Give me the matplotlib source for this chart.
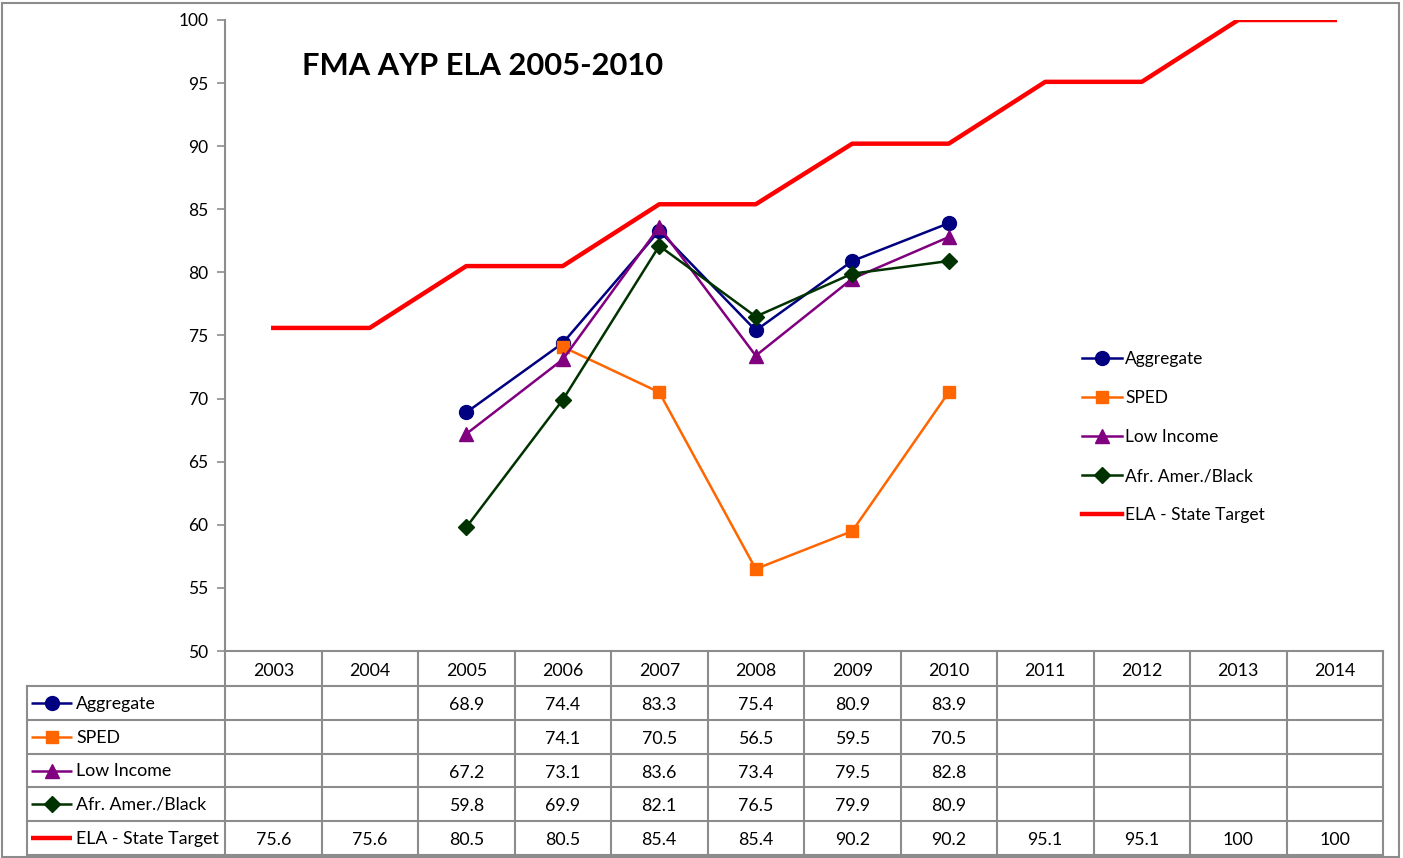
import matplotlib
matplotlib.use("Agg")
import matplotlib.pyplot as plt
from matplotlib.lines import Line2D
from matplotlib.patches import Rectangle

years = ["2003", "2004", "2005", "2006", "2007", "2008", "2009", "2010",
         "2011", "2012", "2013", "2014"]
aggregate = [None, None, 68.9, 74.4, 83.3, 75.4, 80.9, 83.9, None, None, None, None]
sped = [None, None, None, 74.1, 70.5, 56.5, 59.5, 70.5, None, None, None, None]
low_income = [None, None, 67.2, 73.1, 83.6, 73.4, 79.5, 82.8, None, None, None, None]
afr_amer = [None, None, 59.8, 69.9, 82.1, 76.5, 79.9, 80.9, None, None, None, None]
state_target = [75.6, 75.6, 80.5, 80.5, 85.4, 85.4, 90.2, 90.2, 95.1, 95.1, 100, 100]

series_names = ["Aggregate", "SPED", "Low Income", "Afr. Amer./Black", "ELA - State Target"]
series_vals = [aggregate, sped, low_income, afr_amer, state_target]
colors = ["#000080", "#FF6600", "#800080", "#003300", "#FF0000"]
markers = ["o", "s", "^", "D", None]
msizes = [10, 9, 10, 8, 0]
lws = [1.8, 1.8, 1.8, 1.8, 3.2]

plt.rcParams['font.family'] = ['Lato', 'DejaVu Sans']

W, H = 1403, 858
fig = plt.figure(figsize=(W / 100, H / 100), dpi=100)

# outer frame
fig.patches.append(Rectangle((2 / W, 1 / H), 1397 / W, 854 / H, transform=fig.transFigure,
                             fill=False, edgecolor="#8c8c8c", linewidth=1.5))

L, R, T, B = 225, 1383, 20, 651
ax = fig.add_axes([L / W, 1 - B / H, (R - L) / W, (B - T) / H])
ax.set_facecolor("none")
x = list(range(len(years)))
handles = []
for name, vals, c, m, ms, lw in zip(series_names, series_vals, colors, markers, msizes, lws):
    xs = [i for i, v in zip(x, vals) if v is not None]
    ys = [v for v in vals if v is not None]
    ln, = ax.plot(xs, ys, color=c, marker=m, markersize=ms, linewidth=lw,
                  markeredgecolor=c, markerfacecolor=c, label=name, zorder=3)
    handles.append(ln)

ax.set_xlim(-0.5, len(years) - 0.5)
ax.set_ylim(50, 100)
ax.set_yticks(range(50, 101, 5))
ax.set_xticks([])
for s in ["top", "right", "bottom"]:
    ax.spines[s].set_visible(False)
ax.spines["left"].set_color("#8c8c8c")
ax.spines["left"].set_linewidth(1.5)
ax.tick_params(axis="y", direction="out", length=6, width=1.2, color="#8c8c8c",
               labelsize=12.5, pad=6)

fig.text(302 / W, 1 - 66 / H, "FMA AYP ELA 2005-2010", fontsize=22.2, fontweight="bold",
         va="center", ha="left")

fig.legend(handles=handles, loc="upper left", bbox_to_anchor=(1075 / W, 1 - 344 / H),
           frameon=False, fontsize=12.5, handlelength=2.3, handletextpad=0.2,
           labelspacing=1.33, borderaxespad=0)

# data table
tax = fig.add_axes([0, 0, 1, 1])
tax.set_xlim(0, W)
tax.set_ylim(H, 0)
tax.axis("off")
gc = "#8c8c8c"
glw = 1.5
colw = (R - L) / len(years)
row_edges = [651, 686, 720, 754, 787, 821, 855]
lab_left = 27
# horizontal lines
tax.plot([L, R], [row_edges[0]] * 2, color=gc, lw=glw)
for yy in row_edges[1:]:
    tax.plot([lab_left, R], [yy, yy], color=gc, lw=glw)
# vertical lines
for i in range(len(years) + 1):
    xx = L + i * colw
    tax.plot([xx, xx], [row_edges[0], row_edges[-1]], color=gc, lw=glw)
tax.plot([lab_left, lab_left], [row_edges[1], row_edges[-1]], color=gc, lw=glw)

for i, yr in enumerate(years):
    tax.text(L + (i + 0.5) * colw, (row_edges[0] + row_edges[1]) / 2 + 2, yr,
             ha="center", va="center", fontsize=12.8)

for r, (name, vals, c, m, ms, lw) in enumerate(zip(series_names, series_vals, colors,
                                                    markers, msizes, lws)):
    yc = (row_edges[r + 1] + row_edges[r + 2]) / 2
    tax.plot([31, 72], [yc, yc], color=c, lw=lw, solid_capstyle="butt")
    if m:
        tax.plot([51.5], [yc], marker=m, markersize=ms, color=c)
    tax.text(76, yc + 1, name, ha="left", va="center", fontsize=12.8)
    for i, v in enumerate(vals):
        if v is not None:
            tax.text(L + (i + 0.5) * colw, yc + 2, f"{v:g}", ha="center", va="center",
                     fontsize=12.8)

fig.savefig("out.png", dpi=100)
